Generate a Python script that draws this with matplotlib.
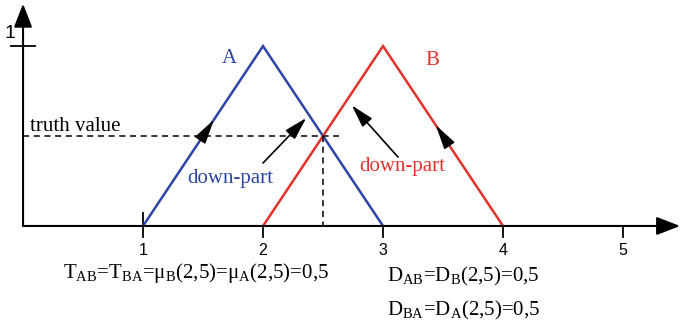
"""Two triangular fuzzy sets A and B with their truth value / down-part."""

import matplotlib

matplotlib.use("Agg")
import matplotlib.pyplot as plt

# membership functions (x, mu)
a_x = [1, 2, 3]
a_y = [0, 1, 0]
b_x = [2, 3, 4]
b_y = [0, 1, 0]

x_ticks = [1, 2, 3, 4, 5]
x_tick_labels = ["1", "2", "3", "4", "5"]

cross_x = 2.5
truth = 0.5
truth_end = 2.63

BLUE = "#2c45a8"
RED = "#e3322b"

plt.rcParams["mathtext.fontset"] = "custom"
plt.rcParams["mathtext.rm"] = "Liberation Serif"
plt.rcParams["mathtext.it"] = "Liberation Serif:italic"
SERIF = "Liberation Serif"
SANS = "Liberation Sans"

fig = plt.figure(figsize=(6.8, 3.26), dpi=100)
ax = fig.add_axes([0, 0, 1, 1])
ax.set_xlim(-0.192, 5.475)
ax.set_ylim(-0.556, 1.256)
ax.axis("off")

# axes with arrow heads
ax.annotate("", xy=(0, 1.235), xytext=(0, 0),
            arrowprops=dict(arrowstyle="-|>,head_width=0.35,head_length=0.9",
                            color="black", lw=1.5, shrinkA=0, shrinkB=0,
                            mutation_scale=16))
ax.annotate("", xy=(5.475, 0), xytext=(0, 0),
            arrowprops=dict(arrowstyle="-|>,head_width=0.35,head_length=0.9",
                            color="black", lw=1.5, shrinkA=0, shrinkB=0,
                            mutation_scale=16))

# y tick at 1
ax.plot([-0.1, 0.1], [1, 1], color="black", lw=1.3)
ax.text(-0.11, 1.07, "1", ha="center", va="center", fontsize=14, family=SANS)

# x ticks
for xt, lab in zip(x_ticks, x_tick_labels):
    top = 0.07 if xt == 1 else 0
    ax.plot([xt, xt], [top, -0.06], color="black", lw=1.3)
    ax.text(xt, -0.135, lab, ha="center", va="center", fontsize=11.5, family=SANS)

# triangles
ax.plot(a_x, a_y, color=BLUE, lw=1.8, solid_joinstyle="miter")
ax.plot(b_x, b_y, color=RED, lw=1.8, solid_joinstyle="miter")
ax.text(1.72, 0.906, "A", color=BLUE, fontsize=15, family=SERIF, ha="center", va="baseline")
ax.text(3.41, 0.894, "B", color=RED, fontsize=15, family=SERIF, ha="center", va="baseline")

# truth value lines
ax.plot([0, truth_end], [truth, truth], color="black", lw=1.1, ls=(0, (4, 3)))
ax.plot([cross_x, cross_x], [truth, 0], color="black", lw=1.1, ls=(0, (4, 3)))
ax.text(0.058, 0.528, "truth value", fontsize=15, family=SERIF, va="baseline")

# small arrow heads on the lines
head = dict(arrowstyle="-|>,head_width=0.28,head_length=1.1", color="black",
            lw=1, shrinkA=0, shrinkB=0, mutation_scale=14)
ax.annotate("", xy=(1.59, 0.59), xytext=(1.55, 0.55), arrowprops=head)
ax.annotate("", xy=(3.44, 0.56), xytext=(3.48, 0.52), arrowprops=head)

# down-part arrows
arr = dict(arrowstyle="-|>,head_width=0.28,head_length=1.0", color="black",
           lw=1.2, shrinkA=0, shrinkB=0, mutation_scale=14)
ax.annotate("", xy=(2.36, 0.60), xytext=(2.0, 0.35), arrowprops=arr)
ax.annotate("", xy=(2.74, 0.67), xytext=(3.125, 0.383), arrowprops=arr)
ax.text(1.725, 0.239, "down-part", color=BLUE, fontsize=15, family=SERIF,
        ha="center", va="baseline")
ax.text(3.16, 0.306, "down-part", color=RED, fontsize=15, family=SERIF,
        ha="center", va="baseline")

# formulas
sub = lambda s: r"$_{\mathrm{" + s + "}}$"
t_text = ("T" + sub("AB") + "=T" + sub("BA") + "=μ" + sub("B") + "(2,5)=μ"
          + sub("A") + "(2,5)=0,5")
d1_text = "D" + sub("AB") + "=D" + sub("B") + "(2,5)=0,5"
d2_text = "D" + sub("BA") + "=D" + sub("A") + "(2,5)=0,5"
ax.text(0.33, -0.29, t_text, fontsize=15, family=SERIF, va="baseline")
ax.text(3.03, -0.31, d1_text, fontsize=15, family=SERIF, va="baseline")
ax.text(3.03, -0.495, d2_text, fontsize=15, family=SERIF, va="baseline")

fig.savefig("out.png", dpi=100)
